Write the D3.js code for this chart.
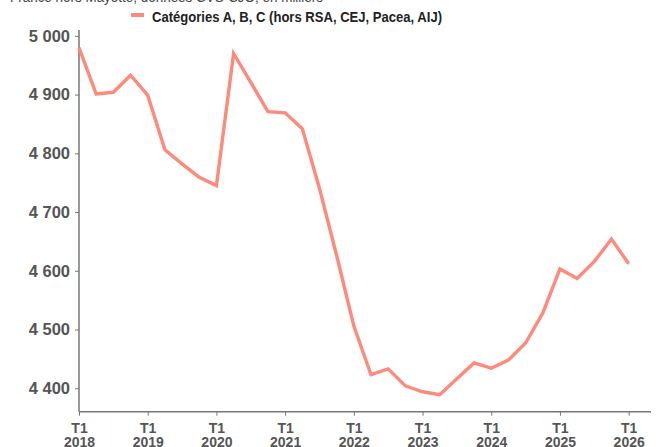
<!DOCTYPE html>
<html><head><meta charset="utf-8">
<script src="https://cdn.jsdelivr.net/npm/d3@7"></script>
<style>body{margin:0;background:#fff}svg{display:block}</style>
</head><body>
<svg id="c" width="657" height="447"></svg>
<script>
const subtitle = "France hors Mayotte, données CVS-CJO, en milliers";
const seriesName = "Catégories A, B, C (hors RSA, CEJ, Pacea, AIJ)";
const quarters = [];
const years = [2018,2019,2020,2021,2022,2023,2024,2025,2026];
years.forEach(y => [1,2,3,4].forEach(q => { if (y < 2026 || q === 1) quarters.push("T" + q + " " + y); }));
const values = [4980,4901,4904,4933,4899,4806,4782,4759,4745,4970,4921,4871,4869,4842,4740,4626,4506,4423,4433,4404,4394,4389,4416,4443,4434,4448,4477,4528,4603,4587,4616,4654,4612];
const yTicks = [4400,4500,4600,4700,4800,4900,5000];

const svg = d3.select("#c");
const x = d3.scaleLinear().domain([0, 33.3]).range([79, 651]);
const y = d3.scaleLinear().domain([4360, 5010]).range([411.7, 30]);
const fmt = v => d3.format(",")(v).replace(",", " ");

svg.append("text").attr("x", 10).attr("y", 2).attr("font-family","Liberation Sans, Arial, sans-serif")
  .attr("font-size", 14).attr("textLength", 313).attr("lengthAdjust","spacingAndGlyphs")
  .attr("fill", "#444").text(subtitle);

// legend
svg.append("line").attr("x1",131).attr("x2",144).attr("y1",15).attr("y2",15)
  .attr("stroke","#ff8a7c").attr("stroke-width",4);
svg.append("text").attr("x",152).attr("y",21.5).attr("font-family","Liberation Sans, Arial, sans-serif")
  .attr("font-weight","bold").attr("font-size",15.5).attr("textLength",290).attr("lengthAdjust","spacingAndGlyphs")
  .attr("fill","#222").text(seriesName);

// y axis
const ya = svg.append("g").attr("transform","translate(79,0)")
  .call(d3.axisLeft(y).tickValues(yTicks).tickSize(4).tickPadding(5).tickFormat(d => fmt(d)));
ya.select(".domain").attr("stroke","#777").attr("stroke-width",1.5).attr("d","M0,30V411.7");
ya.selectAll(".tick line").attr("stroke","#777");
ya.selectAll("text").attr("font-family","Liberation Sans, Arial, sans-serif").attr("font-weight","bold")
  .attr("font-size",16.5).attr("fill","#555");

// x axis
const xa = svg.append("g").attr("transform","translate(0,411.7)")
  .call(d3.axisBottom(x).tickValues(d3.range(0, 33, 4)).tickSize(4).tickFormat(""));
xa.select(".domain").attr("stroke","#777").attr("stroke-width",1.5).attr("d","M79,0H651");
xa.selectAll(".tick line").attr("stroke","#777");
xa.selectAll(".tick").each(function(d){
  const t = d3.select(this).append("text").attr("fill","#555").attr("font-family","Liberation Sans, Arial, sans-serif")
    .attr("font-weight","bold").attr("font-size",14).attr("text-anchor","middle");
  const parts = quarters[d].split(" ");
  t.append("tspan").attr("x",0).attr("y",21).text(parts[0]);
  t.append("tspan").attr("x",0).attr("y",35).text(parts[1]);
});

// line
const line = d3.line().x((d,i) => x(i)).y(d => y(d));
svg.append("path").datum(values).attr("d", line).attr("fill","none")
  .attr("stroke","#ff8a7c").attr("stroke-width",3.4).attr("stroke-linejoin","miter");
</script>
</body></html>
